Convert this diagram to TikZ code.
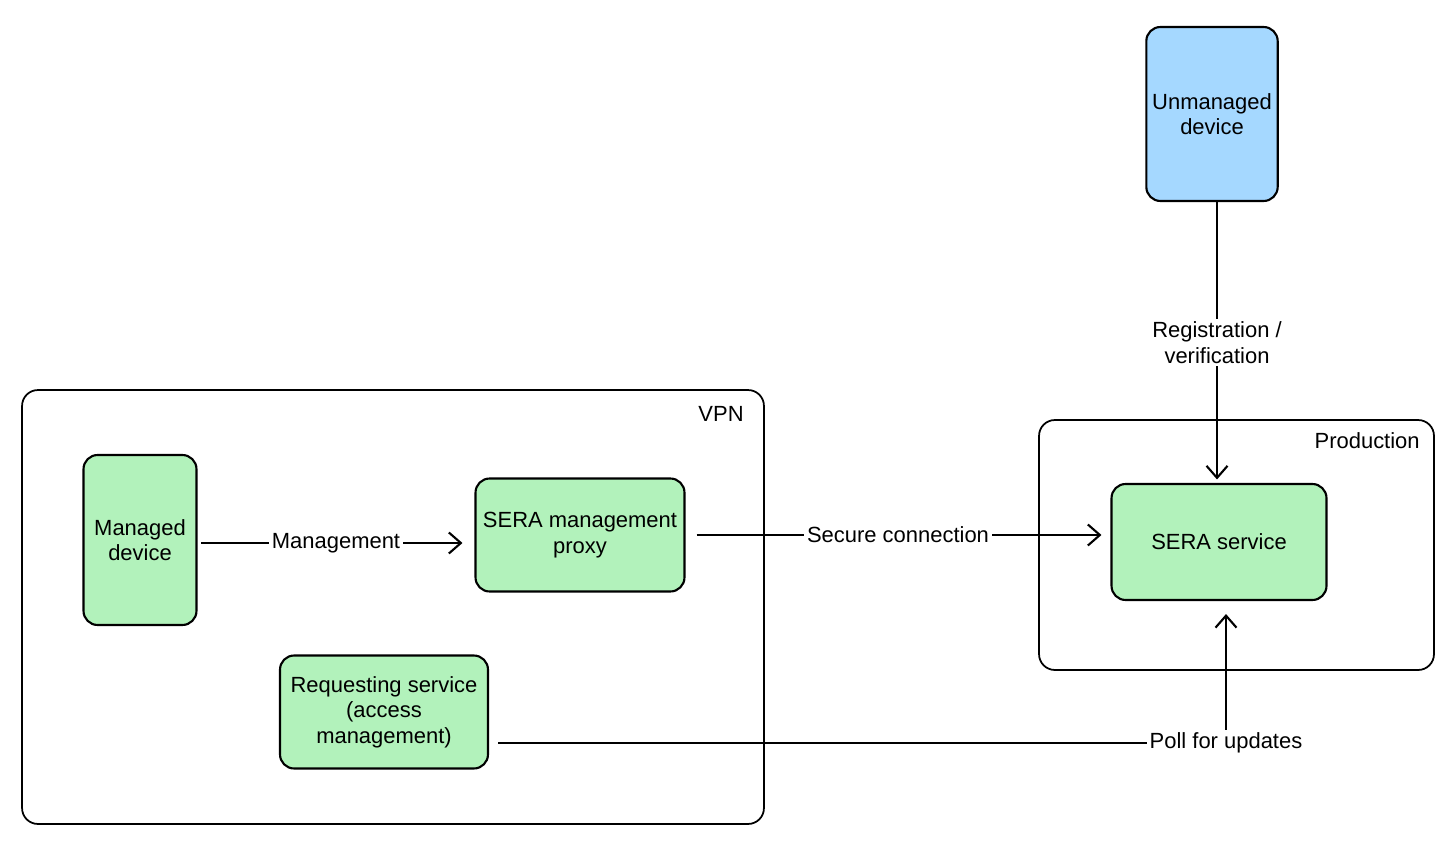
\documentclass[tikz,border=0pt]{standalone}
\usepackage{fontspec}
\setmainfont{Liberation Sans}
\usepackage{tikz}
\usetikzlibrary{arrows.meta}
\definecolor{serafill}{RGB}{178,242,187}
\definecolor{devblue}{RGB}{165,216,255}
\newcommand\sketchfont{\fontsize{12.5}{14.5}\selectfont}

\begin{document}
\begin{tikzpicture}[x=0.02cm, y=-0.02cm,
>={Straight Barb[length=2.4mm,width=4.2mm]},
every node/.style={font=\sketchfont},
sbox/.style={
  draw,
  line width=1.2pt,
  rounded corners=8pt,
  fill=serafill,
  align=center},
zone/.style={
  draw,
  line width=1pt,
  rounded corners=9pt},
link/.style={line width=1.2pt},
lbl/.style={fill=white, inner sep=1.5pt, align=center}
]
\useasboundingbox (0,0) rectangle (1456,851);
% zones
\node[zone, minimum width=14.84cm, minimum height=8.68cm] (vpn) at (393,607) {};
\node[anchor=north east] at ([xshift=-0.3cm, yshift=-0.22cm]vpn.north east) {VPN};
\node[zone, minimum width=7.9cm, minimum height=5cm] (prod) at (1236.5,545) {};
\node[anchor=north east] at ([xshift=-0.18cm, yshift=-0.14cm]prod.north east) {Production};
% boxes
\node[sbox, fill=devblue, minimum width=2.62cm, minimum height=3.48cm] (unman) at (1212,114) {Unmanaged\\device};
\node[sbox, minimum width=2.26cm, minimum height=3.4cm] (man) at (140,540) {Managed\\device};
\node[sbox, minimum width=4.18cm, minimum height=2.26cm] (proxy) at (580,535) {SERA management\\proxy};
\node[sbox, minimum width=4.3cm, minimum height=2.32cm] (sera) at (1219,542) {SERA service};
\node[sbox, minimum width=4.16cm, minimum height=2.26cm] (req) at (384,712) {Requesting service\\(access\\management)};
\node[lbl] (poll) at (1226,743) {Poll for updates};
% connectors
\draw[link, ->, shorten <=2pt, shorten >=0.24cm] (man.east |- 0,543) -- node[lbl] {Management} (proxy.west |- 0,543);
\draw[link, ->, shorten <=0.22cm, shorten >=0.18cm] (proxy.east |- 0,535) -- node[lbl] {Secure connection} (sera.west |- 0,535);
\draw[link, ->, shorten >=2pt] (unman.south -| 1217,0) -- node[lbl] {Registration /\\verification} (sera.north -| 1217,0);
\draw[link, shorten <=0.18cm] (req.east |- poll.west) -- (poll.west);
\draw[link, ->, shorten >=0.26cm] (poll.north) -- (sera.south -| poll.north);
\end{tikzpicture}
\end{document}
